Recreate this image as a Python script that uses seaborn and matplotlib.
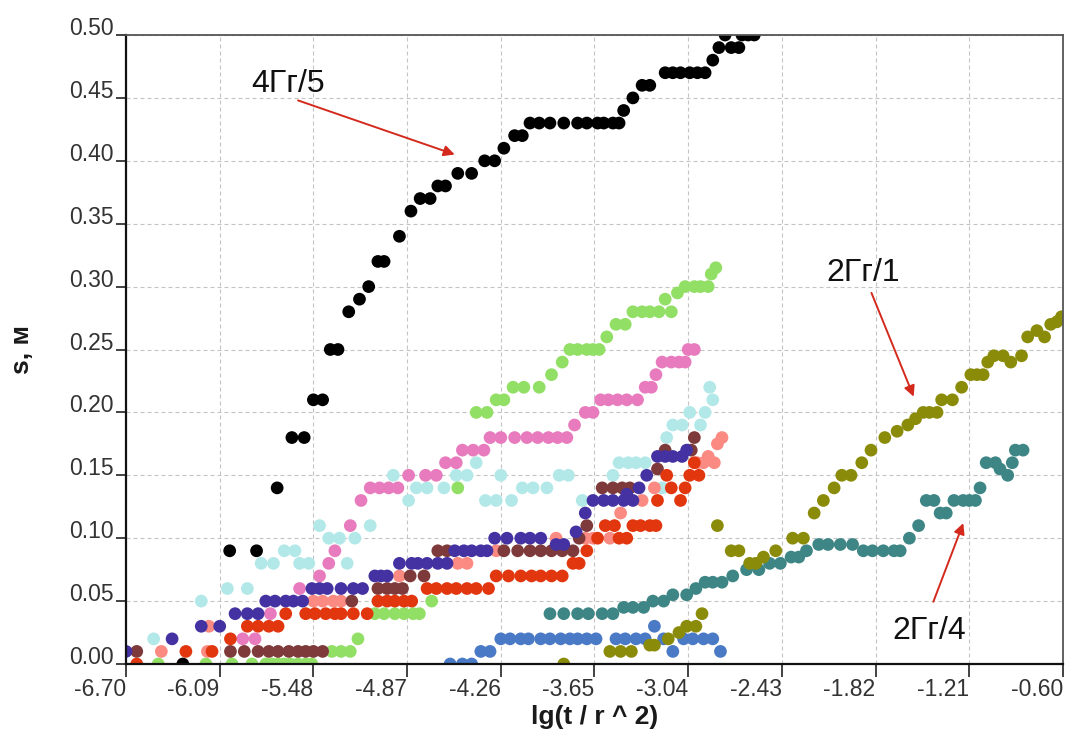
import numpy as np
import pandas as pd
import matplotlib
matplotlib.use("Agg")
import matplotlib.pyplot as plt
import seaborn as sns

# ---------------- data ----------------
xtick_vals = [-6.70, -6.09, -5.48, -4.87, -4.26, -3.65, -3.04, -2.43, -1.82, -1.21, -0.60]
xtick_labels = ["-6.70", "-6.09", "-5.48", "-4.87", "-4.26", "-3.65", "-3.04", "-2.43", "-1.82", "-1.21", "-0.60"]
ytick_vals = [0.00, 0.05, 0.10, 0.15, 0.20, 0.25, 0.30, 0.35, 0.40, 0.45, 0.50]
ytick_labels = ["0.00", "0.05", "0.10", "0.15", "0.20", "0.25", "0.30", "0.35", "0.40", "0.45", "0.50"]

black_x = [-6.33, -6.025, -5.85, -5.716, -5.62, -5.54, -5.48, -5.42, -5.37, -5.32, -5.25, -5.18, -5.12, -5.06,
           -5.02, -4.92, -4.845, -4.785, -4.72, -4.67, -4.62, -4.54, -4.45, -4.365, -4.30, -4.24, -4.17, -4.12,
           -4.07, -4.01, -3.94, -3.85, -3.76, -3.70, -3.63, -3.59, -3.53, -3.49, -3.46, -3.40, -3.34, -3.29,
           -3.19, -3.14, -3.09, -3.03, -2.98, -2.93, -2.88, -2.84, -2.80, -2.76, -2.71, -2.69, -2.65, -2.61]
black_y = [0.00, 0.09, 0.09, 0.14, 0.18, 0.18, 0.21, 0.21, 0.25, 0.25, 0.28, 0.29, 0.30, 0.32,
           0.32, 0.34, 0.36, 0.37, 0.37, 0.38, 0.38, 0.39, 0.39, 0.40, 0.40, 0.41, 0.42, 0.42,
           0.43, 0.43, 0.43, 0.43, 0.43, 0.43, 0.43, 0.43, 0.43, 0.43, 0.44, 0.45, 0.46, 0.46,
           0.47, 0.47, 0.47, 0.47, 0.47, 0.47, 0.48, 0.49, 0.50, 0.49, 0.49, 0.50, 0.50, 0.50]

green_x = [-6.49, -6.18, -6.01, -5.88, -5.79, -5.75, -5.71, -5.67, -5.63, -5.58, -5.53, -5.49, -5.36, -5.30,
           -5.24, -5.19, -5.08, -5.02, -4.95, -4.89, -4.83, -4.79, -4.71, -4.54, -4.42, -4.35, -4.29, -4.24,
           -4.18, -4.11, -4.01, -3.93, -3.86, -3.81, -3.76, -3.70, -3.66, -3.62, -3.57, -3.51, -3.45, -3.40,
           -3.34, -3.29, -3.23, -3.19, -3.15, -3.11, -3.06, -3.00, -2.96, -2.91, -2.89, -2.86]
green_y = [0, 0, 0, 0, 0, 0, 0, 0, 0, 0, 0, 0, 0.01, 0.01,
           0.01, 0.02, 0.04, 0.04, 0.04, 0.04, 0.04, 0.04, 0.05, 0.14, 0.20, 0.20, 0.21, 0.21,
           0.22, 0.22, 0.22, 0.23, 0.24, 0.25, 0.25, 0.25, 0.25, 0.25, 0.26, 0.27, 0.27, 0.28,
           0.28, 0.28, 0.28, 0.29, 0.28, 0.295, 0.30, 0.30, 0.30, 0.30, 0.31, 0.315]

pink_x = [-5.94, -5.86, -5.76, -5.57, -5.44, -5.38, -5.34, -5.24, -5.17, -5.11, -5.05, -4.99, -4.93, -4.86,
          -4.75, -4.68, -4.62, -4.55, -4.51, -4.44, -4.37, -4.33, -4.26, -4.17, -4.09, -4.02, -3.95, -3.89,
          -3.83, -3.78, -3.71, -3.66, -3.61, -3.56, -3.50, -3.44, -3.37, -3.32, -3.28, -3.25, -3.21, -3.15,
          -3.10, -3.06, -3.04, -3.00]
pink_y = [0.02, 0.02, 0.04, 0.06, 0.07, 0.08, 0.09, 0.11, 0.13, 0.14, 0.14, 0.14, 0.14, 0.15,
          0.15, 0.15, 0.16, 0.16, 0.17, 0.17, 0.17, 0.18, 0.18, 0.18, 0.18, 0.18, 0.18, 0.18,
          0.18, 0.19, 0.20, 0.20, 0.21, 0.21, 0.21, 0.21, 0.21, 0.22, 0.22, 0.23, 0.24, 0.24,
          0.24, 0.24, 0.25, 0.25]

cyan_x = [-6.52, -6.21, -6.04, -5.91, -5.82, -5.74, -5.67, -5.60, -5.57, -5.51, -5.44, -5.38, -5.31, -5.26,
          -5.21, -5.11, -4.96, -4.86, -4.81, -4.74, -4.63, -4.55, -4.48, -4.42, -4.36, -4.29, -4.26, -4.19,
          -4.12, -4.05, -3.96, -3.88, -3.82, -3.73, -3.53, -3.49, -3.43, -3.38, -3.32, -3.21, -3.18, -3.14,
          -3.08, -3.03, -2.96, -2.93, -2.90, -2.88]
cyan_y = [0.02, 0.05, 0.06, 0.06, 0.08, 0.08, 0.09, 0.09, 0.08, 0.08, 0.11, 0.10, 0.10, 0.08,
          0.10, 0.11, 0.15, 0.13, 0.14, 0.14, 0.14, 0.15, 0.15, 0.16, 0.13, 0.13, 0.15, 0.13,
          0.14, 0.14, 0.14, 0.15, 0.15, 0.13, 0.15, 0.16, 0.16, 0.16, 0.16, 0.14, 0.18, 0.19,
          0.19, 0.20, 0.19, 0.20, 0.22, 0.21]

indigo_x = [-6.70, -6.40, -6.21, -6.09, -5.99, -5.91, -5.84, -5.79, -5.73, -5.66, -5.61, -5.55, -5.49, -5.44,
            -5.39, -5.30, -5.22, -5.16, -5.08, -5.04, -5.00, -4.92, -4.84, -4.80, -4.74, -4.67, -4.61, -4.56,
            -4.50, -4.45, -4.39, -4.35, -4.30, -4.22, -4.13, -4.07, -4.00, -3.90, -3.85, -3.77, -3.71, -3.66,
            -3.59, -3.53, -3.46, -3.40, -3.44, -3.36, -3.31, -3.24, -3.19, -3.14, -3.08, -3.05]
indigo_y = [0.01, 0.02, 0.03, 0.03, 0.04, 0.04, 0.04, 0.05, 0.05, 0.05, 0.05, 0.05, 0.06, 0.06,
            0.06, 0.06, 0.06, 0.06, 0.07, 0.07, 0.07, 0.08, 0.08, 0.08, 0.08, 0.08, 0.08, 0.09,
            0.09, 0.09, 0.09, 0.09, 0.10, 0.10, 0.10, 0.10, 0.10, 0.095, 0.095, 0.105, 0.12, 0.13,
            0.13, 0.13, 0.13, 0.13, 0.135, 0.14, 0.15, 0.165, 0.165, 0.165, 0.165, 0.17]

brown_x = [-6.63, -6.02, -5.93, -5.84, -5.77, -5.71, -5.64, -5.58, -5.53, -5.48, -5.42, -5.23, -5.06, -5.00,
           -4.95, -4.90, -4.85, -4.76, -4.67, -4.61, -4.24, -4.15, -4.07, -4.00, -3.93, -3.86, -3.79, -3.75,
           -3.70, -3.60, -3.53, -3.47, -3.42, -3.24, -3.19, -3.02, -3.00]
brown_y = [0.01, 0.01, 0.01, 0.01, 0.01, 0.01, 0.01, 0.01, 0.01, 0.01, 0.01, 0.05, 0.06, 0.06,
           0.06, 0.06, 0.07, 0.07, 0.09, 0.09, 0.09, 0.09, 0.09, 0.09, 0.09, 0.09, 0.09, 0.10,
           0.11, 0.14, 0.14, 0.14, 0.14, 0.155, 0.17, 0.17, 0.18]

red_x = [-6.63, -6.31, -6.14, -6.02, -5.91, -5.84, -5.77, -5.71, -5.66, -5.53, -5.47, -5.40, -5.34, -5.30,
         -5.22, -5.13, -5.06, -5.00, -4.95, -4.89, -4.84, -4.74, -4.68, -4.61, -4.55, -4.48, -4.42, -4.34,
         -4.29, -4.21, -4.13, -4.06, -4.00, -3.93, -3.86, -3.79, -3.75, -3.70, -3.63, -3.58, -3.52, -3.49,
         -3.44, -3.40, -3.35, -3.29, -3.25, -3.24, -3.18, -3.15, -3.09, -3.06, -3.03, -3.00, -2.97]
red_y = [0.00, 0.01, 0.01, 0.02, 0.03, 0.03, 0.03, 0.03, 0.04, 0.04, 0.04, 0.04, 0.04, 0.04,
         0.04, 0.04, 0.05, 0.05, 0.05, 0.05, 0.05, 0.06, 0.06, 0.06, 0.06, 0.06, 0.06, 0.06,
         0.07, 0.07, 0.07, 0.07, 0.07, 0.07, 0.07, 0.08, 0.08, 0.09, 0.10, 0.11, 0.11, 0.10,
         0.10, 0.11, 0.11, 0.11, 0.11, 0.13, 0.15, 0.14, 0.13, 0.14, 0.15, 0.16, 0.15]

salmon_x = [-6.47, -6.17, -6.16, -5.48, -5.42, -5.35, -5.30, -4.92, -4.54, -4.48, -4.29, -3.90,
            -3.71, -3.66, -3.55, -3.48, -3.34, -3.26, -2.98, -2.94, -2.91, -2.87, -2.85, -2.82]
salmon_y = [0.01, 0.01, 0.03, 0.05, 0.05, 0.05, 0.05, 0.07, 0.08, 0.08, 0.09, 0.10,
            0.10, 0.10, 0.10, 0.12, 0.13, 0.14, 0.16, 0.16, 0.165, 0.16, 0.175, 0.18]

blue_x = [-4.59, -4.51, -4.45, -4.39, -4.33, -4.26, -4.20, -4.13, -4.08, -4.00, -3.94, -3.87, -3.81, -3.76,
          -3.70, -3.64, -3.51, -3.45, -3.38, -3.32, -3.26, -3.20, -3.14, -3.07, -3.01, -2.94, -2.88, -2.83]
blue_y = [0.00, 0.00, 0.00, 0.01, 0.01, 0.02, 0.02, 0.02, 0.02, 0.02, 0.02, 0.02, 0.02, 0.02,
          0.02, 0.02, 0.02, 0.02, 0.02, 0.02, 0.03, 0.02, 0.01, 0.02, 0.02, 0.02, 0.02, 0.01]

olive_x = [-3.85, -3.55, -3.48, -3.41, -3.29, -3.26, -3.17, -3.10, -3.05, -2.99, -2.95, -2.85, -2.76, -2.71,
           -2.64, -2.60, -2.55, -2.47, -2.36, -2.29, -2.22, -2.16, -2.09, -2.04, -1.98, -1.91, -1.85, -1.76,
           -1.68, -1.61, -1.56, -1.51, -1.47, -1.42, -1.39, -1.32, -1.26, -1.20, -1.16, -1.12, -1.09, -1.05,
           -0.99, -0.94, -0.87, -0.83, -0.77, -0.72, -0.68, -0.64, -0.61]
olive_y = [0.00, 0.01, 0.01, 0.01, 0.015, 0.015, 0.02, 0.025, 0.03, 0.03, 0.04, 0.11, 0.09, 0.09,
           0.08, 0.08, 0.085, 0.09, 0.10, 0.10, 0.12, 0.13, 0.14, 0.15, 0.15, 0.16, 0.17, 0.18,
           0.185, 0.19, 0.195, 0.20, 0.20, 0.20, 0.21, 0.21, 0.22, 0.23, 0.23, 0.23, 0.24, 0.245,
           0.245, 0.24, 0.245, 0.26, 0.265, 0.26, 0.27, 0.272, 0.276]

teal_x = [-3.94, -3.85, -3.76, -3.69, -3.60, -3.53, -3.46, -3.40, -3.33, -3.27, -3.20, -3.14, -3.05, -2.99,
          -2.93, -2.88, -2.82, -2.75, -2.66, -2.58, -2.51, -2.44, -2.37, -2.32, -2.27, -2.19, -2.13, -2.05,
          -1.97, -1.90, -1.84, -1.77, -1.70, -1.66, -1.60, -1.54, -1.49, -1.44, -1.40, -1.36, -1.31, -1.25,
          -1.21, -1.17, -1.14, -1.10, -1.04, -1.01, -0.96, -0.93, -0.91, -0.86]
teal_y = [0.04, 0.04, 0.04, 0.04, 0.04, 0.04, 0.045, 0.045, 0.045, 0.05, 0.05, 0.055, 0.055, 0.06,
          0.065, 0.065, 0.065, 0.07, 0.075, 0.075, 0.08, 0.08, 0.085, 0.085, 0.09, 0.095, 0.095, 0.095,
          0.095, 0.09, 0.09, 0.09, 0.09, 0.09, 0.10, 0.11, 0.13, 0.13, 0.12, 0.12, 0.13, 0.13,
          0.13, 0.13, 0.14, 0.16, 0.16, 0.155, 0.15, 0.16, 0.17, 0.17]

# draw order (later on top)
series = [
    ("cyan", cyan_x, cyan_y),
    ("pink", pink_x, pink_y),
    ("green", green_x, green_y),
    ("salmon", salmon_x, salmon_y),
    ("brown", brown_x, brown_y),
    ("red", red_x, red_y),
    ("indigo", indigo_x, indigo_y),
    ("blue", blue_x, blue_y),
    ("2Гг/4", teal_x, teal_y),
    ("2Гг/1", olive_x, olive_y),
    ("4Гг/5", black_x, black_y),
]
palette = {
    "cyan": "#b3e8e9", "pink": "#e87bbd", "green": "#92df66", "salmon": "#fb8a82",
    "brown": "#7e3a3a", "red": "#e2360f", "indigo": "#4432a2", "blue": "#4a79c6",
    "2Гг/4": "#3e8585", "2Гг/1": "#8b8b0a", "4Гг/5": "#000000",
}

ann_labels = ["4Гг/5", "2Гг/1", "2Гг/4"]
ann_text_xy = [(-5.645, 0.461), (-1.90, 0.311), (-1.472, 0.0266)]
ann_arrow_from = [(-5.58, 0.448), (-1.847, 0.295), (-1.444, 0.0495)]
ann_arrow_to = [(-4.56, 0.405), (-1.572, 0.2125), (-1.249, 0.112)]

# ---------------- plot ----------------
sns.set_theme(style="white")
plt.rcParams['font.family'] = ['Liberation Sans', 'DejaVu Sans']

W, H = 1066, 734
fig = plt.figure(figsize=(W / 100, H / 100), dpi=100)
L, R, T, B = 126, 1063, 35, 664
ax = fig.add_axes([L / W, 1 - B / H, (R - L) / W, (B - T) / H])

frames = [pd.DataFrame({"x": xs, "y": ys, "series": name}) for name, xs, ys in series]
df = pd.concat(frames, ignore_index=True)

sns.scatterplot(data=df, x="x", y="y", hue="series", palette=palette,
                hue_order=[s[0] for s in series], s=84, linewidth=0,
                legend=False, ax=ax, zorder=2)

ax.set_xlim(-6.70, -0.60)
ax.set_ylim(0.0, 0.50)
ax.set_xticks(xtick_vals)
ax.set_xticklabels(xtick_labels)
ax.set_yticks(ytick_vals)
ax.set_yticklabels(ytick_labels)
plt.setp(ax.get_xticklabels(), ha='right')
plt.setp(ax.get_yticklabels(), va='baseline')

ax.tick_params(axis='x', direction='out', length=9, width=1.2, pad=1,
               labelsize=16.5, labelcolor='#333333', color='#222222', bottom=True)
ax.tick_params(axis='y', direction='out', length=7, width=1.2, pad=2,
               labelsize=16.5, labelcolor='#333333', color='#222222', left=True)

ax.set_axisbelow(True)
ax.grid(True, color='#c4c4c4', linestyle=(0, (3.6, 2.7)), linewidth=0.8)

for side in ['top', 'right']:
    ax.spines[side].set_color('#555555')
    ax.spines[side].set_linewidth(1.3)
for side in ['left', 'bottom']:
    ax.spines[side].set_color('#111111')
    ax.spines[side].set_linewidth(1.6)

ax.set_xlabel("lg(t / r ^ 2)", fontsize=19, fontweight='bold', color='#1a1a1a')
ax.xaxis.set_label_coords(0.5, -(717 - B) / (B - T))
ax.xaxis.label.set_va('center')
ax.set_ylabel("s, м", fontsize=19, fontweight='bold', color='#1a1a1a')
ax.yaxis.set_label_coords(-(L - 22) / (R - L), 0.5)
ax.yaxis.label.set_va('center')

for lab, txy, a0, a1 in zip(ann_labels, ann_text_xy, ann_arrow_from, ann_arrow_to):
    ax.text(txy[0], txy[1], lab, fontsize=23, color='#111111', ha='center', va='center', zorder=5)
    ax.annotate("", xy=a1, xytext=a0,
                arrowprops=dict(arrowstyle='-|>', color='#d42a1e', lw=1.4,
                                mutation_scale=16, shrinkA=0, shrinkB=0),
                zorder=5)

fig.savefig("out.png", dpi=100)
